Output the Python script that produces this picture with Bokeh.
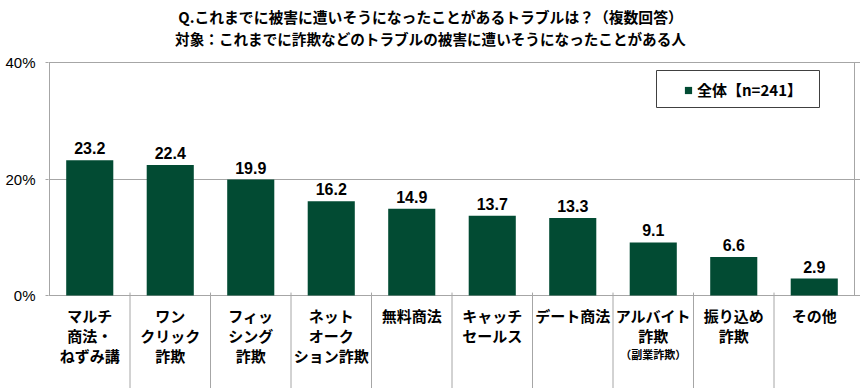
from bokeh.plotting import figure
from bokeh.models import (ColumnDataSource, Range1d, FixedTicker, Label, BoxAnnotation,
                          Legend, LegendItem)
from bokeh.core.properties import value
from bokeh.embed import file_html
from bokeh.resources import INLINE

# ---- data ----
categories = ["マルチ\n商法・\nねずみ講", "ワン\nクリック\n詐欺", "フィッ\nシング\n詐欺",
              "ネット\nオーク\nション詐欺", "無料商法", "キャッチ\nセールス", "デート商法",
              "アルバイト\n詐欺", "振り込め\n詐欺", "その他"]
sub_note = "（副業詐欺）"
sub_note_index = 7
values = [23.2, 22.4, 19.9, 16.2, 14.9, 13.7, 13.3, 9.1, 6.6, 2.9]
y_ticks = [0, 20, 40]
y_tick_labels = ["0%", "20%", "40%"]
series_name = "全体【n=241】"
title_line1 = "Q.これまでに被害に遭いそうになったことがあるトラブルは？（複数回答）"
title_line2 = "対象：これまでに詐欺などのトラブルの被害に遭いそうになったことがある人"

GREEN = "#024B33"
GRID = "#A6A6A6"
CJK = "Noto Sans CJK JP"
LAT = "Liberation Sans"

n = len(categories)
xs = [i + 0.5 for i in range(n)]
source = ColumnDataSource(dict(x=xs, top=values, lab=[f"{v:.1f}" for v in values]))

# category label lines (one glyph per line so spacing is exact)
LINE_FIRST, LINE_GAP = 20, 20
lx, lt, lo = [], [], []
for x, c in zip(xs, categories):
    for k, t in enumerate(c.split("\n")):
        lx.append(x)
        lt.append(t)
        lo.append(LINE_FIRST + LINE_GAP * k)
line_src = ColumnDataSource(dict(x=lx, t=lt, off=lo, zero=[0] * len(lx)))

# layout geometry (pixels in the figure)
FIG_W, FIG_H = 860, 388
FRAME_L = 48
X0_PX, XN_PX = 49, 854      # left / right edges of the plot box
Y_MAX = 40
TOP_PX = 62                 # where 40% sits
ZERO_PX = 295               # where 0% sits
ppu_x = (XN_PX - X0_PX) / n
x_start = -(X0_PX - FRAME_L) / ppu_x
x_end = n + (FIG_W - XN_PX) / ppu_x
ppu_y = (ZERO_PX - TOP_PX) / Y_MAX
y_top = Y_MAX + TOP_PX / ppu_y
y_bottom = -(FIG_H - ZERO_PX) / ppu_y

p = figure(width=FIG_W, height=FIG_H, output_backend="svg", toolbar_location=None,
           x_range=Range1d(x_start, x_end), y_range=Range1d(y_bottom, y_top),
           min_border_left=FRAME_L, min_border_right=0, min_border_top=0,
           min_border_bottom=0)
p.outline_line_color = None

# frame lines (grid at 0/20/40, side lines)
p.xgrid.grid_line_color = None
p.ygrid.grid_line_color = GRID
p.ygrid.ticker = FixedTicker(ticks=y_ticks)
p.segment(x0=[0, n], y0=[0, 0], x1=[0, n], y1=[Y_MAX, Y_MAX], line_color=GRID, line_width=1)
bounds = list(range(1, n))
p.segment(x0=bounds, y0=[0.5] * len(bounds), x1=bounds, y1=[y_bottom] * len(bounds),
          line_color=GRID, line_width=1)

# bars + value labels
p.vbar(x="x", top="top", width=0.585, source=source, fill_color=GREEN, line_color=None)
p.text(x="x", y="top", text="lab", source=source, text_align="center",
       text_baseline="alphabetic", y_offset=-12, text_font=value(LAT),
       text_font_size="16px", text_font_style="bold", text_color="#000000")

# category labels
p.text(x="x", y="zero", text="t", source=line_src, text_align="center",
       text_baseline="middle", y_offset="off", text_font=value(CJK), text_font_size="15px",
       text_font_style="bold", text_color="#000000")
p.text(x=[xs[sub_note_index]], y=[0], text=[sub_note], text_align="center",
       text_baseline="middle", y_offset=58, text_font=value(CJK), text_font_size="11px",
       text_font_style="bold", text_color="#000000")

# titles (frame-relative screen units; frame spans the full height)
p.add_layout(Label(x=430 - FRAME_L, y=FIG_H - 16, x_units="screen", y_units="screen",
                   text=title_line1, text_align="center", text_baseline="middle",
                   text_font=CJK, text_font_size="14.8px", text_font_style="bold",
                   text_color="#000000"))
p.add_layout(Label(x=430 - FRAME_L, y=FIG_H - 38, x_units="screen", y_units="screen",
                   text=title_line2, text_align="center", text_baseline="middle",
                   text_font=CJK, text_font_size="14.6px", text_font_style="bold",
                   text_color="#000000"))

# legend box + legend
p.add_layout(BoxAnnotation(left=656 - FRAME_L, right=819 - FRAME_L,
                           top=FIG_H - 70, bottom=FIG_H - 107,
                           left_units="screen", right_units="screen",
                           top_units="screen", bottom_units="screen",
                           fill_color="white", fill_alpha=1,
                           line_color="#404040", line_width=1, line_alpha=1))
leg_r = p.scatter(x="x", y="top", source=source, marker="square", size=0,
                  fill_color=GREEN, line_color=None)
legend = Legend(items=[LegendItem(label=series_name, renderers=[leg_r])],
                location=(679 - FRAME_L, FIG_H - 100), padding=0, margin=0, spacing=0,
                glyph_width=18, glyph_height=18, label_standoff=0,
                label_height=21,
                label_text_font=CJK, label_text_font_size="15px",
                label_text_font_style="bold", label_text_color="#000000",
                border_line_color=None, background_fill_alpha=0)
p.add_layout(legend, "center")

# axes
p.xaxis.visible = False
p.yaxis.ticker = FixedTicker(ticks=y_ticks, minor_ticks=[])
p.yaxis.major_label_overrides = {t: l for t, l in zip(y_ticks, y_tick_labels)}
p.yaxis.axis_line_color = None
p.yaxis.major_tick_line_color = GRID
p.yaxis.major_tick_out = 3
p.yaxis.major_tick_in = 0
p.yaxis.minor_tick_line_color = None
p.yaxis.major_label_standoff = 10
p.yaxis.major_label_text_font = LAT
p.yaxis.major_label_text_font_size = "15px"
p.yaxis.major_label_text_color = "#000000"

open("out.html", "w").write(file_html(p, INLINE))
